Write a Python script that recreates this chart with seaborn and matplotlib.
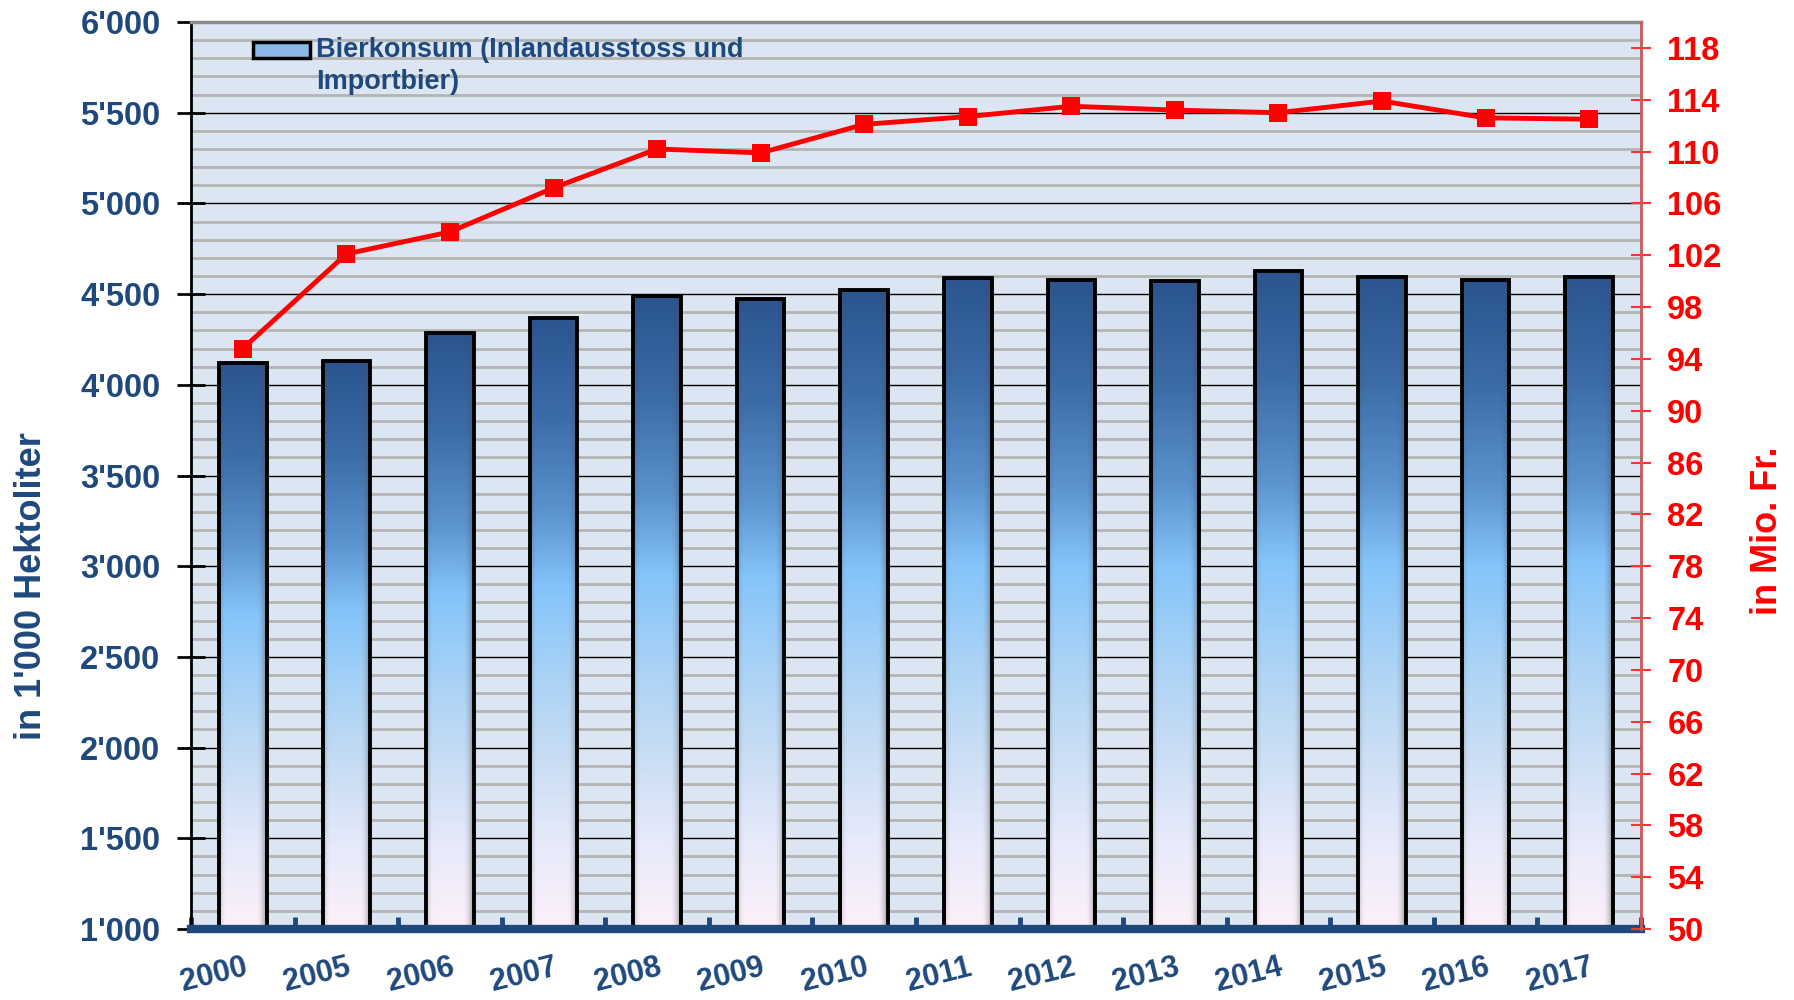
import numpy as np
import pandas as pd
import matplotlib
matplotlib.use('Agg')
import matplotlib.pyplot as plt
import seaborn as sns
from matplotlib.colors import LinearSegmentedColormap
from matplotlib.patches import Rectangle
from matplotlib.ticker import MultipleLocator, FixedLocator, FuncFormatter

jahre = ['2000', '2005', '2006', '2007', '2008', '2009', '2010',
         '2011', '2012', '2013', '2014', '2015', '2016', '2017']
bierkonsum = [4120, 4130, 4285, 4370, 4490, 4475, 4525,
              4590, 4580, 4570, 4625, 4595, 4575, 4595]
umsatz = [94.8, 102.1, 103.8, 107.2, 110.2, 109.9, 112.1,
          112.7, 113.5, 113.2, 113.0, 113.9, 112.6, 112.5]
legende = 'Bierkonsum (Inlandausstoss und\nImportbier)'
y_label_links = "in 1'000 Hektoliter"
y_label_rechts = 'in Mio. Fr.'

navy = '#1f497d'
plt.rcParams['font.family'] = ['Liberation Sans', 'DejaVu Sans']
plt.rcParams['font.weight'] = 'bold'
plt.rcParams['axes.labelweight'] = 'bold'

df = pd.DataFrame({'Jahr': jahre, 'Bierkonsum': bierkonsum, 'Umsatz': umsatz})

fig = plt.figure(figsize=(17.94, 10), dpi=100)
ax = fig.add_axes([0.1065, 0.071, 0.8082, 0.907])
ax.set_facecolor('#dce6f2')

sns.barplot(data=df, x='Jahr', y='Bierkonsum', ax=ax, width=0.46, color='#5c94d0',
            edgecolor='black', linewidth=2.8, errorbar=None, zorder=3)

# farbverlauf in den balken
verlauf = LinearSegmentedColormap.from_list('bier', [
    (0.0, '#fdf0fa'), (0.14, '#e6eafa'), (0.28, '#c8ddf4'), (0.42, '#a8d2f6'),
    (0.56, '#84c4fa'), (0.68, '#5c94d0'), (0.84, '#3c6ca8'), (1.0, '#2a5590')])
t = np.linspace(0, 1, 300)
u = np.linspace(0, 1, 60)
shade = 1 - 0.55 * np.clip((u - 0.78) / 0.22, 0, 1) ** 2 - 0.3 * np.clip((0.15 - u) / 0.15, 0, 1) ** 2
for p in list(ax.patches):
    x0, w, h = p.get_x(), p.get_width(), p.get_height()
    rgb = verlauf(t)[:, :3][:, None, :] * shade[None, :, None] + (1 - shade[None, :, None]) * 0.3
    im = ax.imshow(rgb, extent=[x0, x0 + w, 1000, h], origin='lower', aspect='auto', zorder=3)
    im.set_clip_path(p)
    p.set_facecolor('none')
    p.set_zorder(4)

ax.set_xlim(-0.5, len(jahre) - 0.5)
ax.set_ylim(1000, 6000)
ax.set_axisbelow(True)
ax.yaxis.set_major_locator(MultipleLocator(500))
ax.yaxis.set_minor_locator(MultipleLocator(100))
ax.yaxis.set_major_formatter(FuncFormatter(lambda v, pos: f"{int(v):,}".replace(',', "'")))
ax.grid(which='minor', axis='y', color='#b4b4b4', lw=2)
ax.grid(which='major', axis='y', color='black', lw=1)
ax.tick_params(axis='y', which='major', direction='inout', length=20, width=2,
               color='black', labelsize=23.5, labelcolor=navy, pad=12)
ax.tick_params(axis='y', which='minor', length=0)

ax.spines['right'].set_visible(False)
ax.spines['left'].set_color('black')
ax.spines['left'].set_linewidth(2)
ax.spines['top'].set_color('#8c8c8c')
ax.spines['top'].set_linewidth(2.5)
ax.spines['bottom'].set_color(navy)
ax.spines['bottom'].set_linewidth(6)
ax.spines['bottom'].set_zorder(5)

ax2 = ax.twinx()
sns.pointplot(data=df, x='Jahr', y='Umsatz', ax=ax2, color='red', markers='s',
              markersize=12.5, linewidth=3.5, errorbar=None, markeredgewidth=0)
ax2.set_ylim(50, 120)
ax2.yaxis.set_major_locator(FixedLocator(np.arange(50, 119, 4)))
ax2.tick_params(axis='y', direction='inout', length=14, width=1.5, color='#ff3030',
                labelcolor='red', labelsize=23.5, pad=12)
for s in ['left', 'top', 'bottom']:
    ax2.spines[s].set_visible(False)
ax2.spines['right'].set_color('#d05555')
ax2.spines['right'].set_linewidth(2)
ax2.set_ylabel(y_label_rechts, color='red', fontsize=26)
ax2.yaxis.set_label_coords(1.075, 0.439)

# x-achse
ax.set_xlim(-0.5, len(jahre) - 0.5)
ax.xaxis.set_major_locator(FixedLocator(np.arange(len(jahre))))
ax.set_xticklabels(jahre, rotation=14, ha='right', rotation_mode='anchor',
                   fontsize=22, color=navy)
ax.xaxis.set_minor_locator(FixedLocator(np.arange(-0.5, len(jahre), 1)))
ax.tick_params(axis='x', which='major', length=0, pad=17)
ax.tick_params(axis='x', which='minor', direction='in', length=9, width=3.5, color=navy)
ax.set_xlabel('')
ax.set_ylabel(y_label_links, color=navy, fontsize=26)
ax.yaxis.set_label_coords(-0.098, 0.378)

handle = Rectangle((0, 0), 1, 1, facecolor='#8bb8e8', edgecolor='black', linewidth=2.5)
leg = ax2.legend([handle], [legende], loc='upper left', bbox_to_anchor=(0.043, 0.983),
                 frameon=False, fontsize=19.5, handlelength=2.1, handleheight=0.55,
                 handletextpad=0.2, borderpad=0, borderaxespad=0, labelspacing=0)
for txt in leg.get_texts():
    txt.set_color(navy)
    txt.set_linespacing(1.3)
lh = leg.legend_handles[0]
lh.set_y(lh.get_y() + 12)

fig.savefig('out.png', dpi=100)
